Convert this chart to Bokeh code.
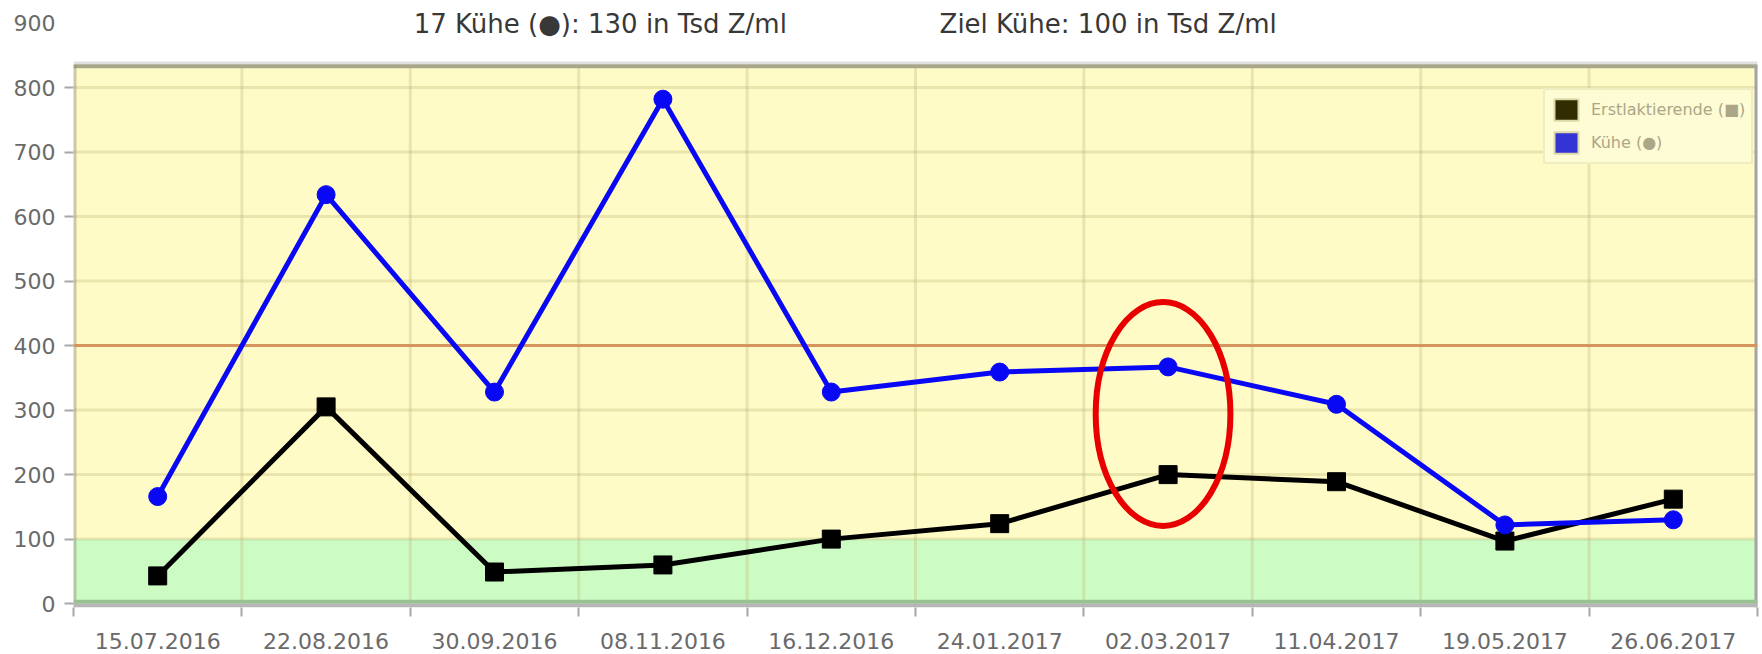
from bokeh.plotting import figure
from bokeh.models import Range1d, FixedTicker, Legend, LegendItem, Label
from bokeh.embed import file_html
from bokeh.resources import INLINE

# ---- data ----
dates = ["15.07.2016", "22.08.2016", "30.09.2016", "08.11.2016", "16.12.2016",
         "24.01.2017", "02.03.2017", "11.04.2017", "19.05.2017", "26.06.2017"]
kuehe = [166, 634, 328, 782, 328, 359, 367, 309, 122, 130]
erstlaktierende = [43, 305, 49, 60, 100, 124, 200, 189, 97, 162]
y_ticks = [0, 100, 200, 300, 400, 500, 600, 700, 800, 900]
n_kuehe = 17
ziel = 100          # green target band upper limit
grenze = 400        # orange limit line
header_left = f"{n_kuehe} Kühe (●): {kuehe[-1]} in Tsd Z/ml"
header_right = f"Ziel Kühe: {ziel} in Tsd Z/ml"
legend_labels = ["Erstlaktierende (■)", "Kühe (●)"]

# ---- layout / style constants ----
FONT = "DejaVu Sans"
plot_top = 833       # top edge of the coloured plot area (value units)
ell_x, ell_y, ell_w, ell_h = 6.47, 294, 0.80, 347   # red highlight ellipse
NAN = float("nan")

n = len(dates)
xs = [i + 0.5 for i in range(n)]

p = figure(width=1762, height=654, x_range=Range1d(0, n), y_range=Range1d(-6, 935),
           output_backend="svg", toolbar_location=None,
           min_border_left=73, min_border_right=5, min_border_top=0, min_border_bottom=47)
p.outline_line_color = None
p.background_fill_color = "white"
p.border_fill_color = "white"
p.xgrid.visible = False
p.ygrid.visible = False

# backgrounds
p.quad(left=[0], right=[n], bottom=[ziel], top=[plot_top], fill_color="#fffbc6", line_color=None)
p.quad(left=[0], right=[n], bottom=[0], top=[ziel], fill_color="#ccfcc4", line_color=None)

# grid lines
hy = [t for t in y_ticks if 0 < t < plot_top]
p.segment(x0=[0] * len(hy), x1=[n] * len(hy), y0=hy, y1=hy,
          line_color="#c2b97e", line_alpha=0.35, line_width=3)
vx = list(range(1, n))
p.segment(x0=vx, x1=vx, y0=[0] * len(vx), y1=[plot_top] * len(vx),
          line_color="#c2b97e", line_alpha=0.35, line_width=3)

# frame borders
p.segment(x0=[0], x1=[n], y0=[plot_top + 5], y1=[plot_top + 5], line_color="#e0e0e0", line_width=3)
p.segment(x0=[0], x1=[n], y0=[plot_top], y1=[plot_top], line_color="#a8a78a", line_width=4)
p.segment(x0=[0], x1=[0], y0=[-6], y1=[plot_top + 2], line_color="#8e8e76", line_alpha=0.45, line_width=6)
p.segment(x0=[n], x1=[n], y0=[-6], y1=[plot_top + 2], line_color="#a4a4a4", line_width=6)
p.segment(x0=[0], x1=[n], y0=[3], y1=[3], line_color="#98c290", line_width=4)
p.segment(x0=[0], x1=[n], y0=[-3], y1=[-3], line_color="#b6b6b6", line_width=4)

# limit line
p.segment(x0=[0], x1=[n], y0=[grenze], y1=[grenze], line_color="#d6955c", line_width=3)

# series
p.line(xs, erstlaktierende, line_color="black", line_width=5)
p.scatter(xs, erstlaktierende, marker="square", size=18, fill_color="black", line_color="black")
p.line(xs, kuehe, line_color="#0808f4", line_width=5)
p.scatter(xs, kuehe, marker="circle", size=18, fill_color="#0808f4", line_color="#0808f4")

# highlight ellipse
p.ellipse(x=[ell_x], y=[ell_y], width=[ell_w], height=[ell_h],
          fill_color=None, line_color="#e80000", line_width=6)

# axes
p.xaxis.ticker = FixedTicker(ticks=xs, minor_ticks=list(range(0, n + 1)))
p.xaxis.major_label_overrides = {x: d for x, d in zip(xs, dates)}
p.yaxis.ticker = FixedTicker(ticks=y_ticks, minor_ticks=[t for t in y_ticks if t < plot_top])
for ax in (p.xaxis[0], p.yaxis[0]):
    ax.axis_line_color = None
    ax.major_tick_line_color = None
    ax.major_tick_out = 0
    ax.major_tick_in = 0
    ax.minor_tick_out = 9
    ax.minor_tick_in = 0
    ax.minor_tick_line_color = "#a8a8a8"
    ax.minor_tick_line_width = 2
    ax.major_label_text_font = FONT
    ax.major_label_text_font_size = "22px"
    ax.major_label_text_color = "#6a6a6a"
p.xaxis.major_label_standoff = 16
p.yaxis.major_label_standoff = 9

# header texts
for txt, x in ((header_left, 2.02), (header_right, 5.143)):
    p.add_layout(Label(x=x, y=899, text=txt, text_font=FONT, text_font_size="26px",
                       text_color="#383838", text_baseline="middle", text_align="left"))

# legend (proxy renderers that draw nothing in the plot)
r_e = p.quad(left=[NAN], right=[NAN], top=[NAN], bottom=[NAN],
             fill_color="#312d00", line_color="#dcd8a8", line_width=2)
r_k = p.quad(left=[NAN], right=[NAN], top=[NAN], bottom=[NAN],
             fill_color="#3434d4", line_color="#dcd8a8", line_width=2)
legend = Legend(items=[LegendItem(label=legend_labels[0], renderers=[r_e]),
                       LegendItem(label=legend_labels[1], renderers=[r_k])],
                location=(1470, 443), padding=6, spacing=6, margin=0,
                glyph_width=30, glyph_height=27, label_standoff=10,
                label_text_font=FONT, label_text_font_size="16px", label_text_color="#aca688",
                background_fill_color="#fefcd4", background_fill_alpha=1,
                border_line_color="#e2deae", border_line_width=2)
p.add_layout(legend)

open("out.html", "w").write(file_html(p, INLINE))
